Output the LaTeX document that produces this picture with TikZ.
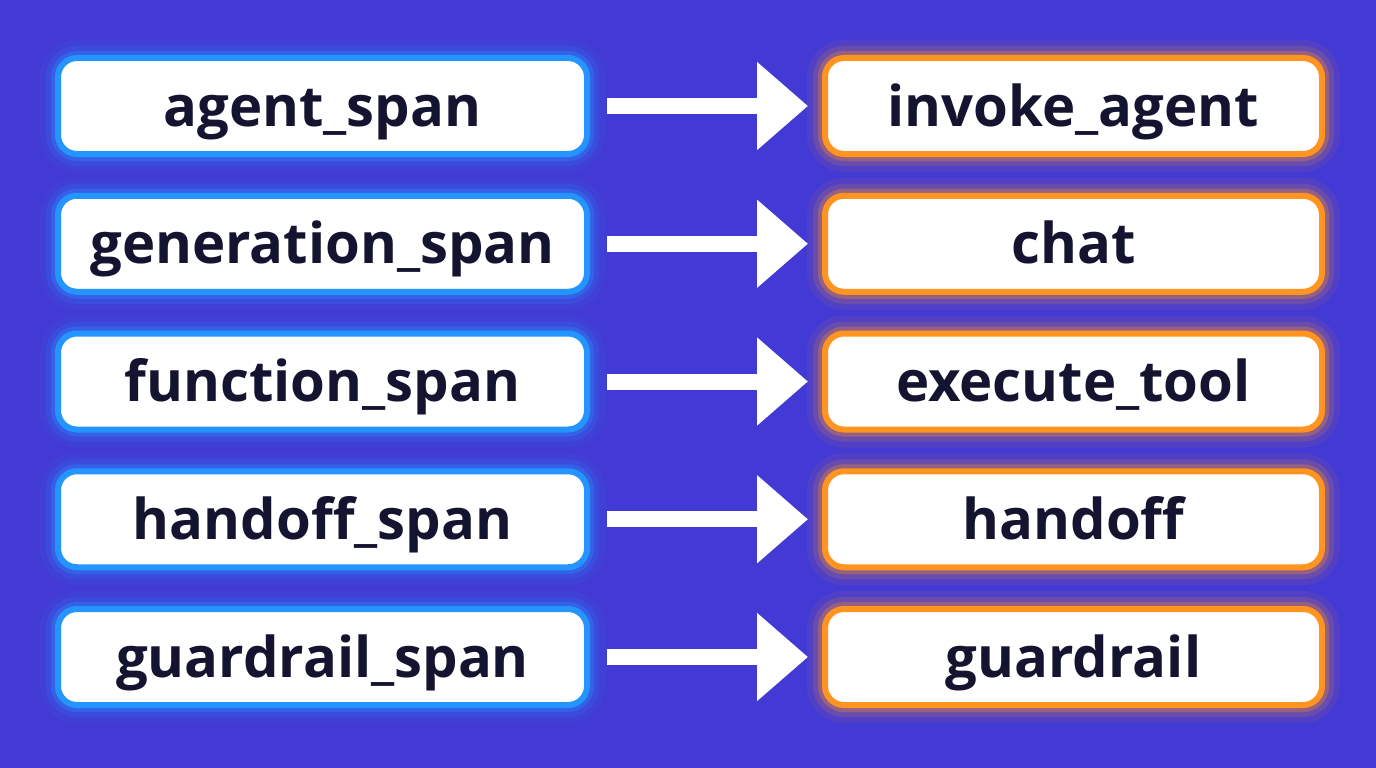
\documentclass[tikz,border=0pt]{standalone}
\usepackage{fontspec}
\setmainfont{Open Sans}
\usepackage{tikz}
\usetikzlibrary{arrows.meta,positioning}
\definecolor{bgindigo}{RGB}{67,57,212}
\definecolor{spanblue}{RGB}{36,148,255}
\definecolor{oporange}{RGB}{255,148,32}
\definecolor{inkdark}{RGB}{20,20,48}

\begin{document}
\begin{tikzpicture}[
    namebox/.style={rectangle, rounded corners=0.19cm, fill=white, line width=0.06cm,
                 minimum height=0.96cm, align=center, text=inkdark, inner sep=2pt,
                 text height=0.5cm, text depth=0.1cm,
                 font=\fontsize{16}{18}\bfseries\selectfont},
    spanbox/.style={namebox, draw=spanblue, minimum width=5.29cm,
                 preaction={draw=spanblue, line width=0.36cm, opacity=0.08},
                 preaction={draw=spanblue, line width=0.24cm, opacity=0.15},
                 preaction={draw=spanblue, line width=0.14cm, opacity=0.3}},
    opbox/.style={namebox, draw=oporange, minimum width=4.97cm,
                 preaction={draw=oporange, line width=0.36cm, opacity=0.08},
                 preaction={draw=oporange, line width=0.24cm, opacity=0.15},
                 preaction={draw=oporange, line width=0.14cm, opacity=0.3}},
    arr/.style={-{Triangle[length=0.51cm, width=0.85cm]}, line width=0.16cm, white,
                 shorten <=0.17cm, shorten >=0.14cm}
]
\fill[bgindigo] (0,0) rectangle (13.76,-7.68);
\useasboundingbox (0,0) rectangle (13.76,-7.68);

\node[spanbox] (s1) at (3.225,-1.06)   {agent\_span};
\node[spanbox] (s2) at (3.225,-2.4375) {generation\_span};
\node[spanbox] (s3) at (3.225,-3.815)  {function\_span};
\node[spanbox] (s4) at (3.225,-5.1925) {handoff\_span};
\node[spanbox] (s5) at (3.225,-6.57)   {guardrail\_span};

\node[opbox] (o1) at (10.735,-1.06)   {invoke\_agent};
\node[opbox] (o2) at (10.735,-2.4375) {chat};
\node[opbox] (o3) at (10.735,-3.815)  {execute\_tool};
\node[opbox] (o4) at (10.735,-5.1925) {handoff};
\node[opbox] (o5) at (10.735,-6.57)   {guardrail};

\draw[arr] (s1.east) -- (o1.west);
\draw[arr] (s2.east) -- (o2.west);
\draw[arr] (s3.east) -- (o3.west);
\draw[arr] (s4.east) -- (o4.west);
\draw[arr] (s5.east) -- (o5.west);
\end{tikzpicture}
\end{document}
